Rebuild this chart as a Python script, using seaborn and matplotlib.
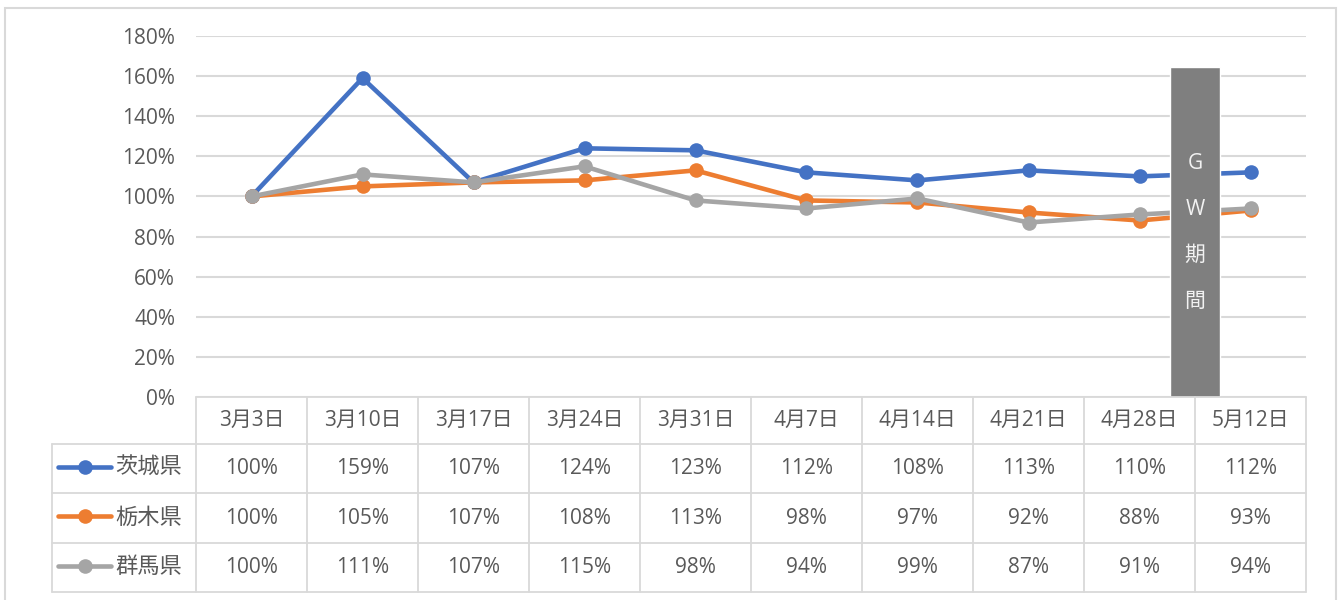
import matplotlib
matplotlib.use("Agg")
import matplotlib.pyplot as plt
import seaborn as sns
import pandas as pd
from matplotlib.patches import Rectangle
from matplotlib.lines import Line2D

# ---- data ----
dates = ["3月3日", "3月10日", "3月17日", "3月24日", "3月31日",
         "4月7日", "4月14日", "4月21日", "4月28日", "5月12日"]
prefectures = ["茨城県", "栃木県", "群馬県"]
ibaraki = [100, 159, 107, 124, 123, 112, 108, 113, 110, 112]
tochigi = [100, 105, 107, 108, 113, 98, 97, 92, 88, 93]
gunma = [100, 111, 107, 115, 98, 94, 99, 87, 91, 94]
series = [ibaraki, tochigi, gunma]
yticks = [0, 20, 40, 60, 80, 100, 120, 140, 160, 180]
gw_label = "G\nW\n期\n間"
gw_height = 164.5

colors = ["#4472C4", "#ED7D31", "#A5A5A5"]
text_color = "#595959"
grid_color = "#D9D9D9"

sns.set_theme(style="white")
plt.rcParams["font.family"] = ["Open Sans", "Noto Sans CJK JP", "DejaVu Sans"]

rows = []
for name, vals in zip(prefectures, series):
    for i, v in enumerate(vals):
        rows.append({"x": i, "value": v, "pref": name})
df = pd.DataFrame(rows)

W, H = 1341, 600
fig = plt.figure(figsize=(W / 100, H / 100), dpi=100)
fig.patch.set_facecolor("white")

# outer border
fig.patches.append(Rectangle((5 / W, -0.05), (1336 - 5) / W, (H - 8) / H + 0.05,
                             transform=fig.transFigure, fill=False,
                             edgecolor=grid_color, lw=1.5))

FS = 15

# main axes
L, R, T, B = 196, 1306, 36, 397
ax = fig.add_axes([L / W, (H - B) / H, (R - L) / W, (B - T) / H])
sns.lineplot(data=df, x="x", y="value", hue="pref", hue_order=prefectures,
             palette=colors, marker="o", markersize=10.5, markeredgewidth=0,
             linewidth=3.3, legend=False, ax=ax, zorder=3)
ax.set_xlim(-0.5, len(dates) - 0.5)
ax.set_ylim(0, 180)
ax.set_yticks(yticks)
ax.set_yticklabels([f"{v}%" for v in yticks], color=text_color, fontsize=FS)
ax.tick_params(axis="y", length=0, pad=15)
ax.set_xticks([])
ax.set_xlabel("")
ax.set_ylabel("")
for s in ax.spines.values():
    s.set_visible(False)
ax.yaxis.grid(True, color=grid_color, lw=1.5)
ax.set_axisbelow(True)

# GW bar
ax.bar([len(dates) - 1.5], [gw_height], width=0.45, color="#7F7F7F", zorder=5)
ax.text(len(dates) - 1.5, 82, gw_label, ha="center", va="center",
        color="#F2F2F2", fontsize=FS, linespacing=2.55, zorder=6)

# data table
colw = (R - L) / len(dates)
tl = 52
tax = fig.add_axes([tl / W, (H - 592) / H, (R - tl) / W, (592 - B) / H])
x0 = -0.5 - (L - tl) / colw
tax.set_xlim(x0, len(dates) - 0.5)
tax.set_ylim(592, B)
tax.axis("off")

def px2x(px):
    return -0.5 + (px - L) / colw

row_edges = [397, 444, 493, 543, 592]
lkw = dict(color=grid_color, lw=1.3, clip_on=False)
# horizontal lines
tax.plot([-0.5, len(dates) - 0.5], [row_edges[0]] * 2, **lkw)
for y in row_edges[1:]:
    tax.plot([x0, len(dates) - 0.5], [y, y], **lkw)
# vertical lines
tax.plot([x0, x0], [row_edges[1], row_edges[-1]], **lkw)
for i in range(len(dates) + 1):
    tax.plot([i - 0.5, i - 0.5], [row_edges[0], row_edges[-1]], **lkw)

hy = (row_edges[0] + row_edges[1]) / 2
for i, d in enumerate(dates):
    tax.text(i, hy, d, ha="center", va="center", color=text_color, fontsize=FS)

for r, (name, vals, c) in enumerate(zip(prefectures, series, colors)):
    cy = (row_edges[r + 1] + row_edges[r + 2]) / 2
    tax.add_line(Line2D([px2x(58), px2x(111)], [cy - 2, cy - 2], color=c, lw=3.3,
                        solid_capstyle="round"))
    tax.plot([px2x(85)], [cy - 2], marker="o", color=c, markersize=10.5,
             markeredgewidth=0)
    tax.text(px2x(115), cy, name, ha="left", va="center", color=text_color,
             fontsize=FS + 1)
    for i, v in enumerate(vals):
        tax.text(i, cy, f"{v}%", ha="center", va="center", color=text_color,
                 fontsize=FS)

fig.savefig("out.png", dpi=100, facecolor="white")
